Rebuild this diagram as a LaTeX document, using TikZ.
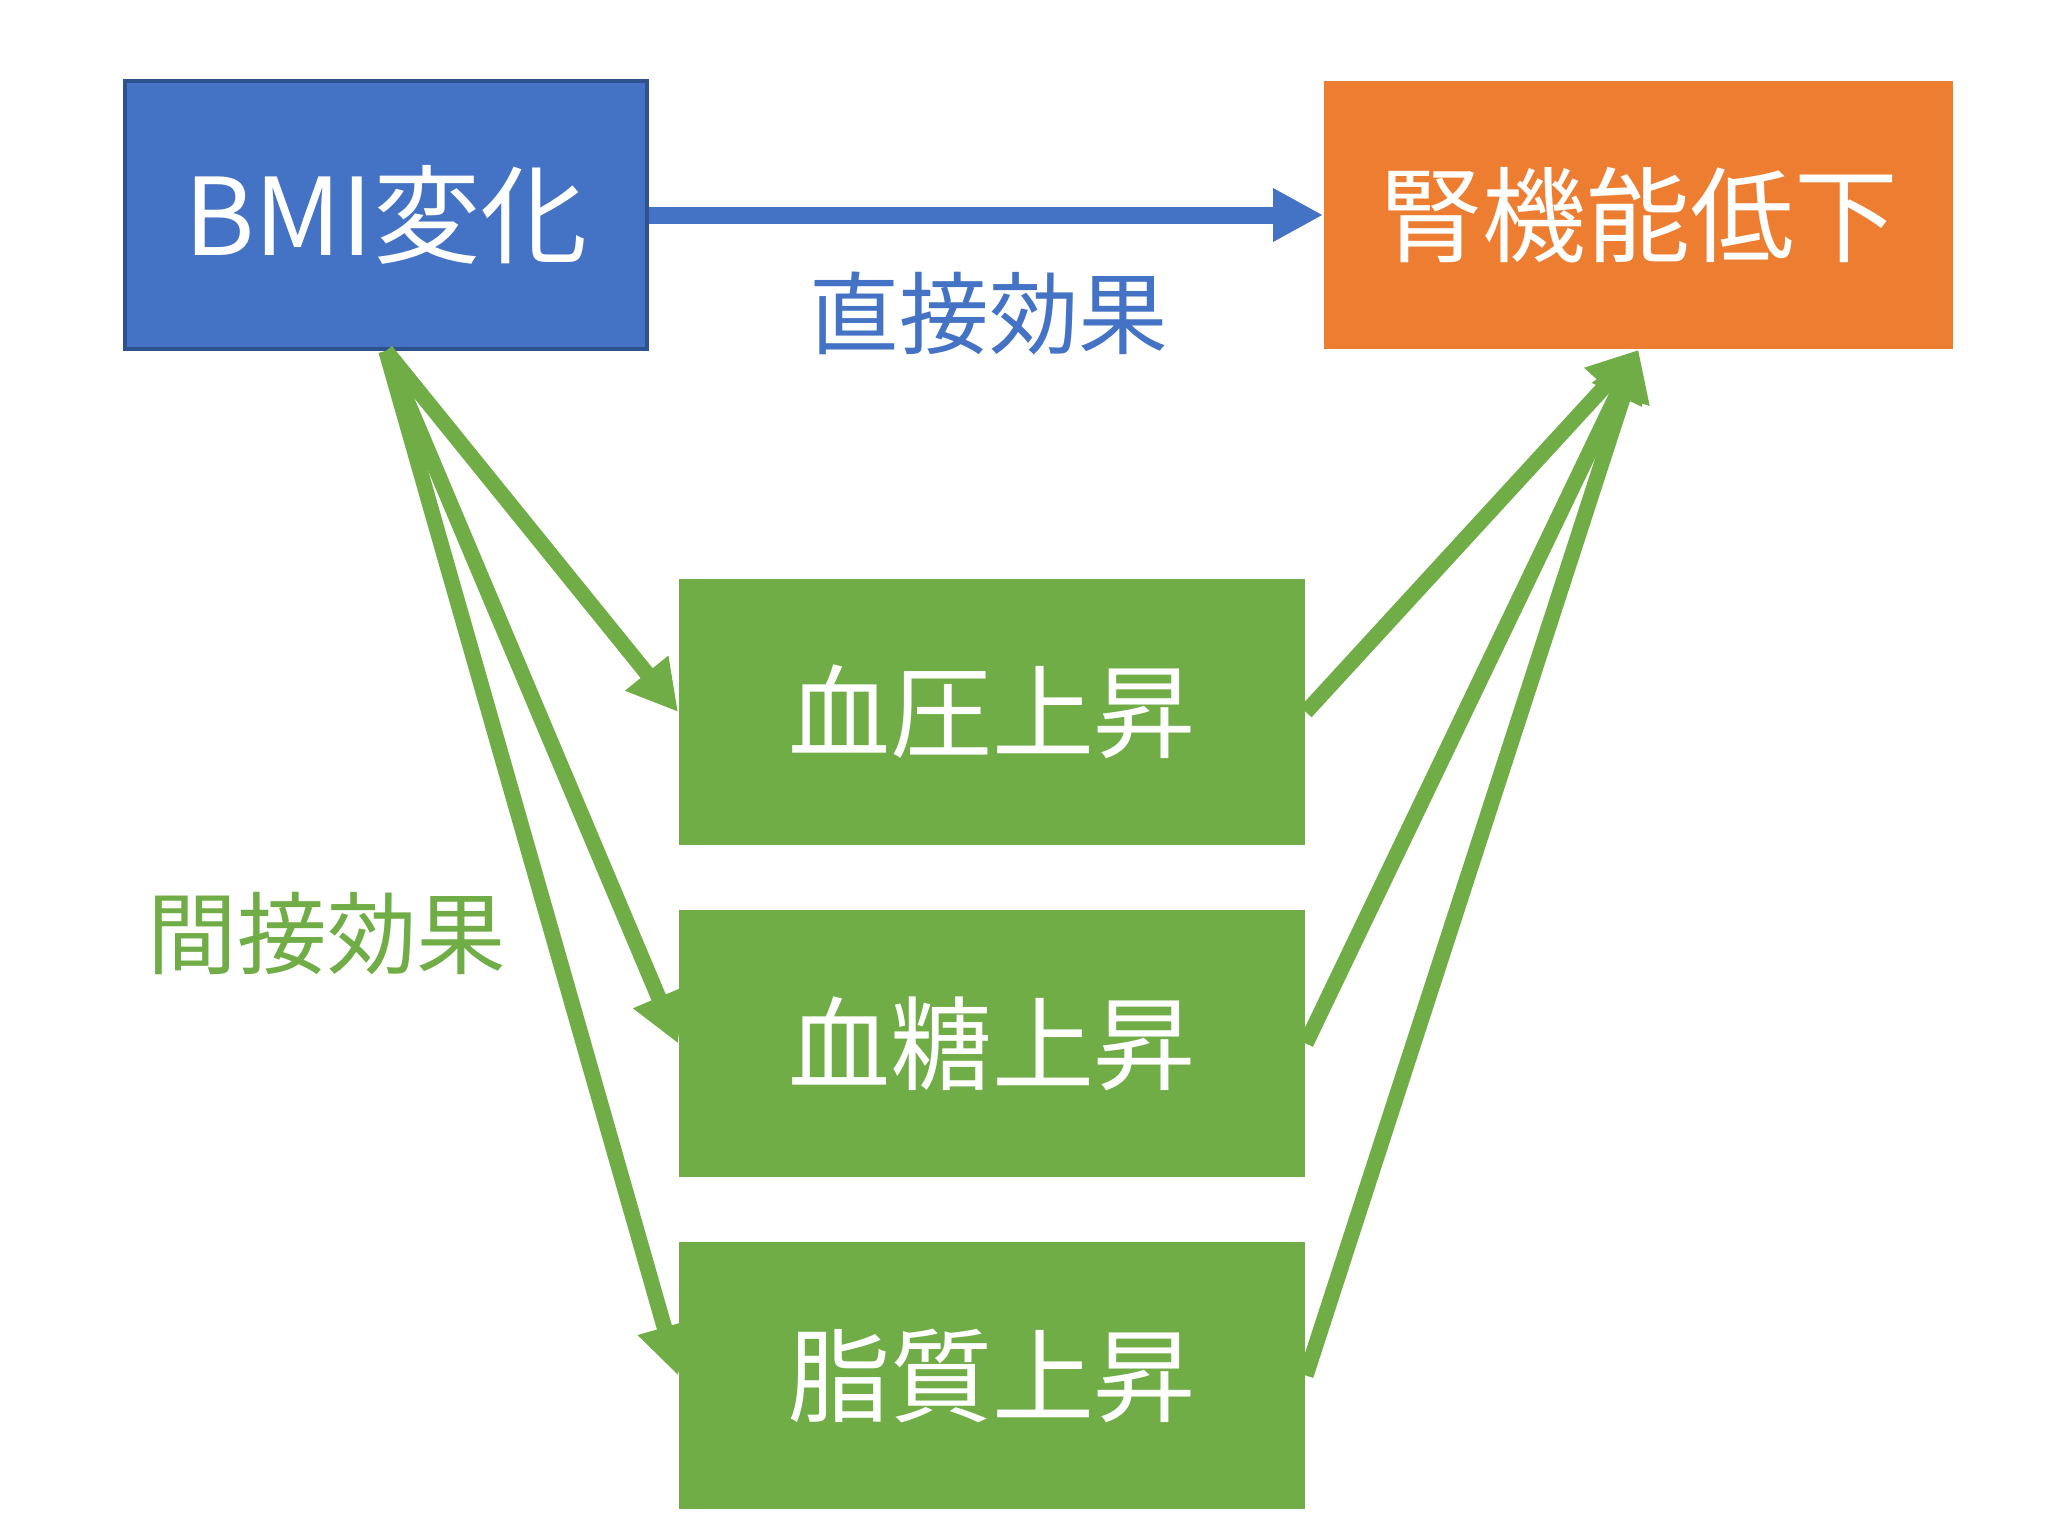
\documentclass[tikz,border=0pt]{standalone}
\usepackage{fontspec}
\setmainfont{Noto Sans CJK JP}
\usetikzlibrary{arrows.meta}
\definecolor{cblue}{HTML}{4472C4}
\definecolor{cborder}{HTML}{2F528F}
\definecolor{corange}{HTML}{ED7D31}
\definecolor{cgreen}{HTML}{70AD47}
\tikzset{
  box/.style={inner sep=0pt, text=white, font=\fontsize{29pt}{35pt}\selectfont},
  bluebox/.style={box, fill=cblue, draw=cborder, line width=1pt, minimum width=5.22cm, minimum height=2.68cm},
  orangebox/.style={box, fill=corange, minimum width=6.29cm, minimum height=2.68cm},
  greenbox/.style={box, fill=cgreen, minimum width=6.26cm, minimum height=2.66cm},
  lbl/.style={inner sep=0pt, font=\fontsize{25.5pt}{30pt}\selectfont},
  bluearrow/.style={draw=cblue, line width=0.17cm, -{Triangle[length=0.5cm,width=0.5cm]}, fill=cblue},
  greenarrow/.style={draw=cgreen, line width=0.155cm, -{Triangle[length=0.5cm,width=0.52cm]}, fill=cgreen}
}
\begin{document}
\begin{tikzpicture}[x=0.01cm,y=-0.01cm]
\useasboundingbox (0,0) rectangle (2048,1536);
\node[bluebox, font=\fontsize{30.5pt}{36pt}\selectfont] (bmi) at (386,215) {BMI変化};
\node[orangebox, font=\fontsize{29.5pt}{35pt}\selectfont] (kidney) at (1638.5,215) {腎機能低下};
\node[greenbox] (bp) at (992,712) {血圧上昇};
\node[greenbox] (bs) at (992,1043.5) {血糖上昇};
\node[greenbox] (lp) at (992,1375.5) {脂質上昇};
\node[lbl, text=cblue] (direct) at (989,313) {直接効果};
\node[lbl, text=cgreen] (indirect) at (327,934) {間接効果};
\draw[bluearrow] (bmi.east) -- (kidney.west);
\draw[greenarrow] (bmi.south) -- (bp.west);
\draw[greenarrow] (bmi.south) -- (bs.west);
\draw[greenarrow] (bmi.south) -- (lp.west);
\draw[greenarrow] (bp.east) -- (kidney.south);
\draw[greenarrow] (bs.east) -- (kidney.south);
\draw[greenarrow] (lp.east) -- (kidney.south);
\end{tikzpicture}
\end{document}
